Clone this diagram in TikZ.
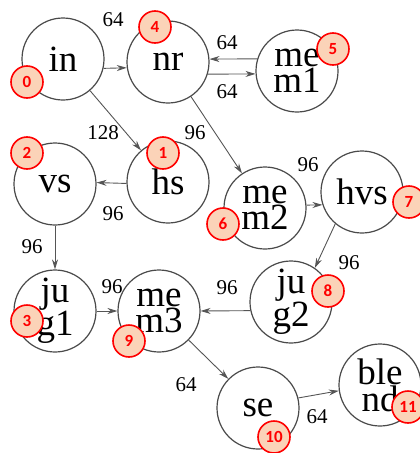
\documentclass[tikz,border=0pt]{standalone}
\usepackage{fontspec}
\setmainfont{Liberation Serif}
\newfontfamily\badgefont{Carlito}
\usetikzlibrary{arrows.meta}
\definecolor{lineg}{HTML}{4A4A4A}
\definecolor{arrg}{HTML}{555555}
\definecolor{badgefill}{HTML}{FBD3B8}
\tikzset{
  opnode/.style={circle, draw=lineg, line width=1.2pt, fill=white, minimum size=82pt, inner sep=0pt, align=center, font=\fontsize{37}{26}\selectfont},
  badge/.style={circle, draw=red, line width=1.6pt, fill=badgefill, minimum size=32pt, inner sep=0pt, text=red, font=\badgefont\bfseries\fontsize{17}{17}\selectfont},
  conn/.style={draw=arrg, line width=0.9pt, -{Stealth[length=10pt,width=6pt]}},
  elabel/.style={font=\fontsize{21}{21}\selectfont, text=black, inner sep=0pt}
}
\begin{document}
\begin{tikzpicture}[x=1pt,y=-1pt]
\useasboundingbox (0,0) rectangle (420,453);
% nodes
\node[opnode] (in)   at (63,59)   {in};
\node[opnode] (nr)   at (168,62)  {nr};
\node[opnode] (mem1) at (297,71)  {me\\m1};
\node[opnode] (vs)   at (55,184)  {vs};
\node[opnode] (hs)   at (168,182) {hs};
\node[opnode] (mem2) at (265,208) {me\\m2};
\node[opnode] (hvs)  at (362,192) {hvs};
\node[opnode] (jug1) at (55,311)  {ju\\g1};
\node[opnode] (mem3) at (159,311) {me\\m3};
\node[opnode] (jug2) at (291,302) {ju\\g2};
\node[opnode] (se)   at (258,408) {se};
\node[opnode] (blend) at (380,385) {ble\\nd};
% connectors
\draw[conn] (in.-13) -- (nr.188.5);
\draw[conn] (mem1.163) -- (nr.4);
\draw[conn] (nr.-17) -- (mem1.184);
\draw[conn] (in) -- (hs);
\draw[conn] (nr) -- (mem2);
\draw[conn] (hs.182) -- (vs.2);
\draw[conn] (vs) -- (jug1);
\draw[conn] (mem2.4) -- (hvs.198.5);
\draw[conn] (hvs.230) -- (jug2.55);
\draw[conn] (jug1) -- (mem3);
\draw[conn] (jug2.192.7) -- (mem3.0);
\draw[conn] (mem3) -- (se);
\draw[conn] (se.14) -- (blend.188);
% edge labels
\node[elabel] (l1) at (113,20) {64};
\node[elabel] (l2) at (227,43) {64};
\node[elabel] (l3) at (227,92) {64};
\node[elabel] (l4) at (103,133) {128};
\node[elabel] (l5) at (195,133) {96};
\node[elabel] (l6) at (113,214) {96};
\node[elabel] (l7) at (32,247) {96};
\node[elabel] (l8) at (308,165) {96};
\node[elabel] (l9) at (349,263) {96};
\node[elabel] (l10) at (112,287) {96};
\node[elabel] (l11) at (227,288) {96};
\node[elabel] (l12) at (186,385) {64};
\node[elabel] (l13) at (317,417) {64};
% badges
\node[badge] (b0) at (27,82) {0};
\node[badge] (b1) at (163,153) {1};
\node[badge] (b2) at (27,153) {2};
\node[badge] (b3) at (27,321) {3};
\node[badge] (b4) at (155,27) {4};
\node[badge] (b5) at (333,49) {5};
\node[badge] (b6) at (223,224) {6};
\node[badge] (b7) at (409,202) {7};
\node[badge] (b8) at (328,291) {8};
\node[badge] (b9) at (129,341) {9};
\node[badge] (b10) at (274,437) {10};
\node[badge] (b11) at (408,407) {11};
\end{tikzpicture}
\end{document}
